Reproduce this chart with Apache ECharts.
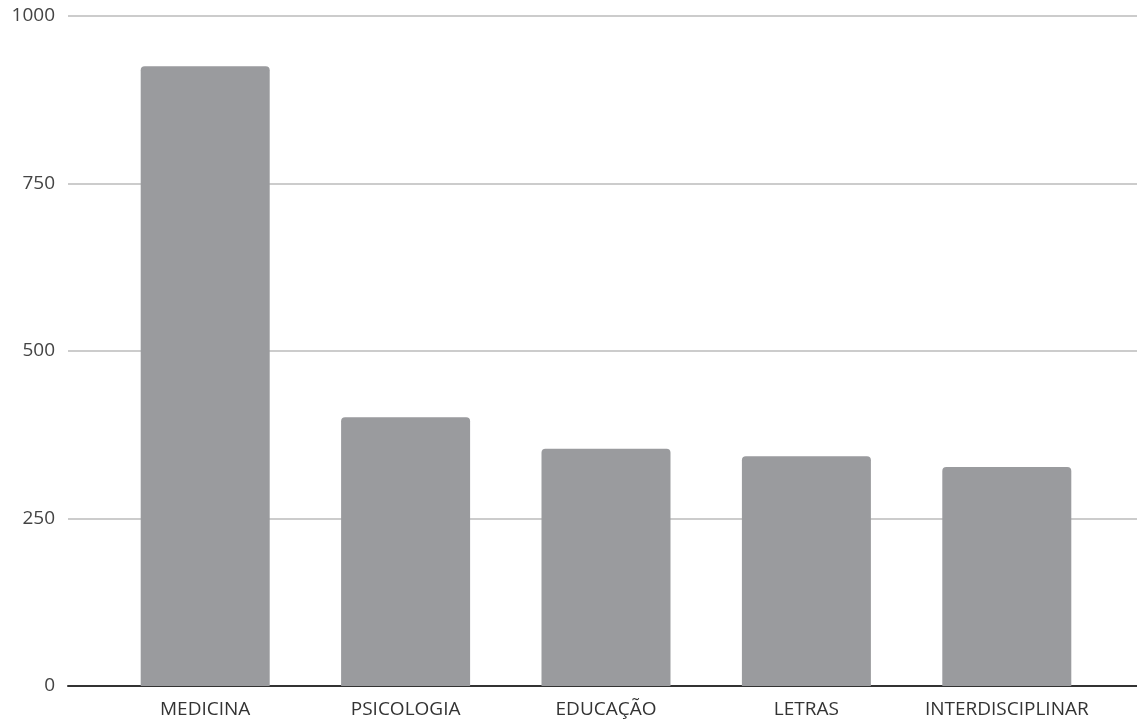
<!DOCTYPE html>
<html>
<head>
<meta charset="utf-8">
<script src="https://cdn.jsdelivr.net/npm/echarts@6/dist/echarts.min.js"></script>
<style>
html,body{margin:0;padding:0;background:#fff;}
#chart{width:1137px;height:722px;}
</style>
</head>
<body>
<div id="chart"></div>
<script>
const categories = ['MEDICINA', 'PSICOLOGIA', 'EDUCAÇÃO', 'LETRAS', 'INTERDISCIPLINAR'];
const values = [925, 401, 354, 343, 327];
const yTicks = [0, 250, 500, 750, 1000];

const chart = echarts.init(document.getElementById('chart'));
const font = '"Open Sans", "Noto Sans", sans-serif';
chart.setOption({
  animation: false,
  grid: [
    {left: 105, right: 30, top: 16, bottom: 36},
    {left: 68, right: 0, top: 16, bottom: 36}
  ],
  xAxis: [
    {
      type: 'category', gridIndex: 0, data: categories,
      axisLine: {show: false}, axisTick: {show: false},
      axisLabel: {color: '#333', fontSize: 19, fontFamily: font, margin: 14, interval: 0, hideOverlap: false}
    },
    {
      type: 'value', gridIndex: 1, min: 0, max: 1,
      axisLine: {show: true, onZero: false, lineStyle: {color: '#333', width: 2}},
      axisTick: {show: false}, axisLabel: {show: false}, splitLine: {show: false}
    }
  ],
  yAxis: [
    {
      type: 'value', gridIndex: 0, min: 0, max: 1000, interval: 250,
      axisLine: {show: false}, axisTick: {show: false},
      axisLabel: {show: false}, splitLine: {show: false}
    },
    {
      type: 'value', gridIndex: 1, min: yTicks[0], max: yTicks[yTicks.length - 1], interval: 250,
      axisLine: {show: false}, axisTick: {show: false},
      axisLabel: {color: '#444', fontSize: 19, fontFamily: font, margin: 13, formatter: v => String(v)},
      splitLine: {show: true, lineStyle: {color: '#cccccc', width: 2}}
    }
  ],
  series: [
    {
      type: 'bar', xAxisIndex: 0, yAxisIndex: 0, data: values,
      barWidth: 129,
      itemStyle: {color: '#9a9b9e', borderRadius: [4, 4, 0, 0]},
      z: 3
    }
  ]
});
</script>
</body>
</html>
